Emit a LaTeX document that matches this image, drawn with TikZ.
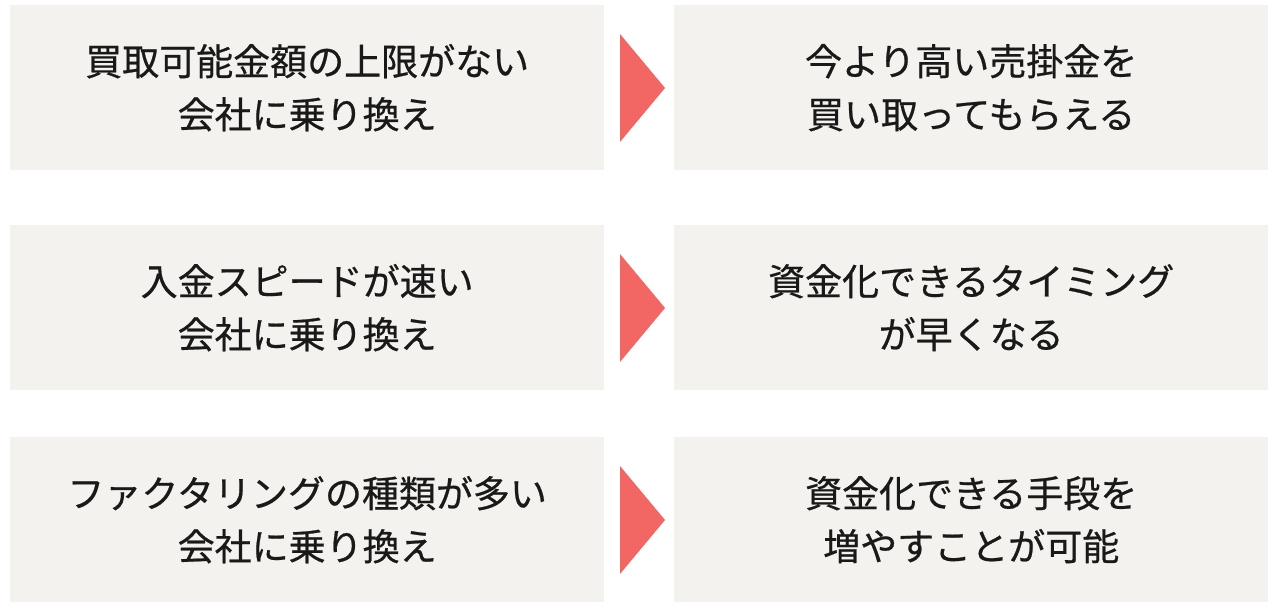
\documentclass[tikz,border=0pt]{standalone}
\usepackage{fontspec}
\setmainfont{Noto Sans CJK JP}[FakeBold=0.6]
\begin{document}
\begin{tikzpicture}[x=1pt,y=-1pt,
  cell/.style={fill=boxbg,draw=none,minimum width=594pt,minimum height=165pt,anchor=north west,inner sep=0pt,
    align=center,font=\fontsize{37}{53}\selectfont,text=black!90},
  tri/.style={fill=arrowred,draw=none}]
\definecolor{boxbg}{HTML}{F3F2EE}
\definecolor{arrowred}{HTML}{F26664}
\useasboundingbox (0,0) rectangle (1276,610);
\node[cell] (l1) at (10,5) {買取可能金額の上限がない\\会社に乗り換え};
\node[cell] (r1) at (674,5) {今より高い売掛金を\\買い取ってもらえる};
\node[cell] (l2) at (10,225) {入金スピードが速い\\会社に乗り換え};
\node[cell] (r2) at (674,225) {資金化できるタイミング\\が早くなる};
\node[cell] (l3) at (10,437) {ファクタリングの種類が多い\\会社に乗り換え};
\node[cell] (r3) at (674,437) {資金化できる手段を\\増やすことが可能};
\foreach \y in {88,308,520}{
  \fill[tri] (620,\y-54) -- (665,\y) -- (620,\y+54) -- cycle;
}
\end{tikzpicture}
\end{document}
